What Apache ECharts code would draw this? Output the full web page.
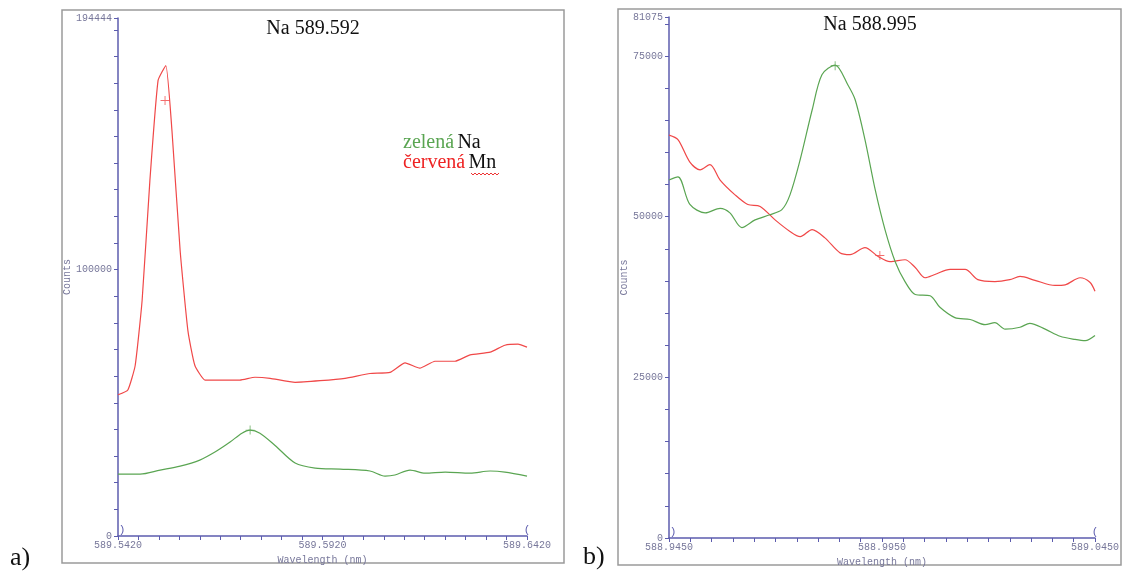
<!DOCTYPE html>
<html>
<head>
<meta charset="utf-8">
<script src="https://cdn.jsdelivr.net/npm/echarts@6/dist/echarts.min.js"></script>
<style>html,body{margin:0;padding:0;background:#fff}#c{width:1127px;height:576px}</style>
</head>
<body>
<div id="c"></div>
<script>
// ---- data: panel a) Na 589.592 ----
const aWave = [589.5420,589.5444,589.5462,589.5479,589.5498,589.5518,589.5537,589.5552,589.5572,589.5591,589.5608,589.5633,589.5669,589.5718,589.5755,589.5792,589.5853,589.5914,589.5975,589.6036,589.6085,589.6122,589.6158,589.6195,589.6244,589.6281,589.6330,589.6366,589.6398,589.6420];
const aRed  = [53000,54800,64000,88500,133500,171000,176600,152000,107000,77000,64000,58500,58500,58500,59600,59200,57700,58300,59200,61000,61400,65000,63000,65600,65600,68000,69000,71600,72000,70900];
const aGreenWave = [589.5420,589.5474,589.5523,589.5572,589.5620,589.5657,589.5694,589.5723,589.5743,589.5767,589.5804,589.5853,589.5902,589.5963,589.6036,589.6073,589.6097,589.6134,589.6171,589.6220,589.6281,589.6330,589.6366,589.6420];
const aGreen = [23250,23250,24750,26250,28500,31500,35250,38600,39750,38600,34000,27400,25500,25100,24400,22500,22900,24750,23600,24000,23600,24400,24000,22500];
const aMarkRed = [589.5535,163500];
const aMarkGreen = [589.5743,39750];
const aXLabels = [589.5420,589.5920,589.6420];
const aYLabels = [0,100000,194444];

// ---- data: panel b) Na 588.995 ----
const bRedWave = [588.9450,588.9471,588.9499,588.9523,588.9546,588.9570,588.9605,588.9635,588.9664,588.9699,588.9734,588.9758,588.9786,588.9816,588.9851,588.9875,588.9910,588.9941,588.9969,589.0004,589.0028,589.0051,589.0074,589.0110,589.0145,589.0175,589.0215,589.0250,589.0274,589.0309,589.0356,589.0380,589.0415,589.0438,589.0450];
const bRed = [62700,62000,58500,57300,58100,55700,53400,51900,51600,49500,47700,46900,48000,46700,44400,44100,45200,43800,43000,43300,42100,40500,41000,41800,41800,40200,39900,40200,40700,40100,39300,39400,40500,39800,38400];
const bGreenWave = [588.9450,588.9471,588.9499,588.9535,588.9570,588.9593,588.9621,588.9652,588.9687,588.9715,588.9734,588.9758,588.9786,588.9809,588.9840,588.9870,588.9887,588.9910,588.9934,588.9957,588.9981,589.0004,589.0028,589.0063,589.0086,589.0121,589.0157,589.0192,589.0215,589.0239,589.0274,589.0297,589.0333,589.0368,589.0403,589.0427,589.0450];
const bGreen = [55700,56200,51900,50600,51300,50600,48300,49500,50300,51100,53400,58900,66600,72100,73600,70500,68200,62000,54200,48000,43000,39900,37900,37700,35900,34300,34000,33200,33500,32500,32800,33400,32500,31400,30900,30700,31500];
const bMarkRed = [588.9945,43950];
const bMarkGreen = [588.9840,73500];
const bXLabels = [588.9450,588.9950,589.0450];
const bYLabels = [0,25000,50000,75000,81075];

const titles = ['Na 589.592','Na 588.995'];

const RED = '#f04848', GREEN = '#5aa552', AXIS = '#5c5cae', LAB = '#77779a';
const MONO = '"Liberation Mono","DejaVu Sans Mono",monospace';
const SERIF = '"Liberation Serif","Times New Roman",serif';
const zip = (xs, ys) => xs.map((x, i) => [x, ys[i]]);
const near = (v, arr, eps) => arr.some(a => Math.abs(a - v) < eps);
const PLUS = 'path://M4.5,0H5.5V4.5H10V5.5H5.5V10H4.5V5.5H0V4.5H4.5Z';

function xAxis(idx, min, max, labels) {
  return {
    type: 'value', gridIndex: idx, min: min, max: max, interval: 0.005,
    name: 'Wavelength (nm)', nameLocation: 'middle', nameGap: 12,
    nameTextStyle: { color: LAB, fontFamily: MONO, fontSize: 10 },
    axisLine: { lineStyle: { color: AXIS, width: 1.5 } },
    axisTick: { length: 4, lineStyle: { color: AXIS } },
    axisLabel: { color: LAB, fontFamily: MONO, fontSize: 10, margin: 4, showMinLabel: true, showMaxLabel: true,
      formatter: v => near(v, labels, 1e-6) ? v.toFixed(4) : '' },
    splitLine: { show: false }
  };
}
function yAxis(idx, max, interval, labels) {
  return {
    type: 'value', gridIndex: idx, min: 0, max: max, interval: interval,
    name: 'Counts', nameLocation: 'middle', nameGap: idx === 0 ? 44 : 38,
    nameTextStyle: { color: LAB, fontFamily: MONO, fontSize: 10 },
    axisLine: { show: true, lineStyle: { color: AXIS, width: 1.5 } },
    axisTick: { show: true, length: 4, lineStyle: { color: AXIS } },
    axisLabel: { color: LAB, fontFamily: MONO, fontSize: 10, margin: 6, showMinLabel: true, showMaxLabel: true,
      formatter: v => near(v, labels, 0.5) ? String(Math.round(v)) : '' },
    splitLine: { show: false }
  };
}
function line(xi, data, color, smooth) {
  return { type: 'line', xAxisIndex: xi, yAxisIndex: xi, data: data, showSymbol: false, symbol: 'none',
    smooth: smooth, lineStyle: { color: color, width: 1.2 }, silent: true, animation: false };
}
function mark(xi, pt, color) {
  return { type: 'scatter', xAxisIndex: xi, yAxisIndex: xi, data: [pt], symbol: PLUS, symbolSize: 9,
    itemStyle: { color: color }, silent: true, animation: false, z: 5 };
}
function endMark(x, y, t) {
  return { type: 'text', x: x, y: y, style: { text: t, font: '11px ' + MONO, fill: AXIS, textAlign: 'center', textVerticalAlign: 'bottom' } };
}

const chart = echarts.init(document.getElementById('c'), null, { renderer: 'canvas' });
chart.setOption({
  animation: false,
  backgroundColor: '#fff',
  grid: [
    { left: 118, right: 600, top: 18, bottom: 40 },
    { left: 669, right: 32, top: 17, bottom: 38 }
  ],
  xAxis: [xAxis(0, 589.542, 589.642, aXLabels), xAxis(1, 588.945, 589.045, bXLabels)],
  yAxis: [yAxis(0, 194444, 10000, aYLabels), yAxis(1, 81075, 5000, bYLabels)],
  series: [
    line(0, zip(aWave, aRed), RED, 0.15),
    line(0, zip(aGreenWave, aGreen), GREEN, 0.3),
    mark(0, aMarkRed, RED),
    mark(0, aMarkGreen, GREEN),
    line(1, zip(bRedWave, bRed), RED, 0.3),
    line(1, zip(bGreenWave, bGreen), GREEN, 0.3),
    mark(1, bMarkRed, RED),
    mark(1, bMarkGreen, GREEN)
  ],
  graphic: [
    { type: 'rect', shape: { x: 62, y: 10, width: 502, height: 553 }, style: { fill: 'none', stroke: '#9a9a9a', lineWidth: 1.5 }, z: -1 },
    { type: 'rect', shape: { x: 618, y: 9, width: 503, height: 556 }, style: { fill: 'none', stroke: '#9a9a9a', lineWidth: 1.5 }, z: -1 },
    { type: 'text', x: 313, y: 29, style: { text: titles[0], font: '20px ' + SERIF, fill: '#111', textAlign: 'center', textVerticalAlign: 'middle' } },
    { type: 'text', x: 870, y: 25, style: { text: titles[1], font: '20px ' + SERIF, fill: '#111', textAlign: 'center', textVerticalAlign: 'middle' } },
    { type: 'text', x: 403, y: 143, style: { text: '{g|zelená} {k|Na}', rich: { g: { fill: GREEN, font: '20px ' + SERIF }, k: { fill: '#111', font: '20px ' + SERIF } }, textVerticalAlign: 'middle' } },
    { type: 'text', x: 403, y: 163, style: { text: '{r|červená} {k|Mn}', rich: { r: { fill: '#ee2222', font: '20px ' + SERIF }, k: { fill: '#111', font: '20px ' + SERIF } }, textVerticalAlign: 'middle' } },
    { type: 'polyline', shape: { points: [[471,173],[473,175],[475,173],[477,175],[479,173],[481,175],[483,173],[485,175],[487,173],[489,175],[491,173],[493,175],[495,173],[497,175],[499,173]] }, style: { stroke: '#ee3333', lineWidth: 1, fill: 'none' } },
    endMark(122, 536, ')'), endMark(527, 536, '('),
    endMark(673, 538, ')'), endMark(1095, 538, '('),
    { type: 'text', x: 10, y: 558, style: { text: 'a)', font: '26px ' + SERIF, fill: '#111', textVerticalAlign: 'middle' } },
    { type: 'text', x: 583, y: 557, style: { text: 'b)', font: '26px ' + SERIF, fill: '#111', textVerticalAlign: 'middle' } }
  ]
});
</script>
</body>
</html>
